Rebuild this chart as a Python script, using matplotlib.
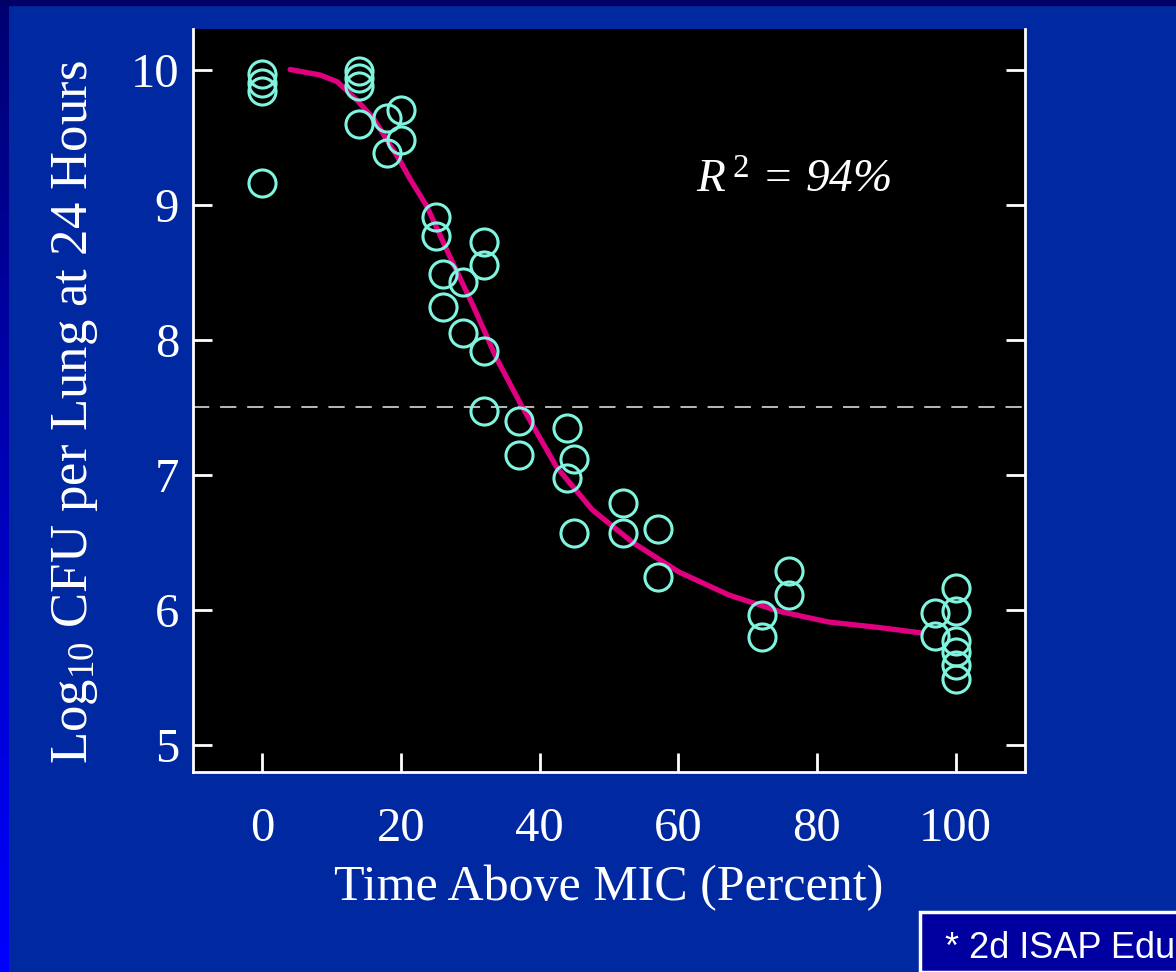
import numpy as np
import matplotlib
matplotlib.use("Agg")
import matplotlib.pyplot as plt
from matplotlib.patches import Rectangle

plt.rcParams['font.family'] = ['Liberation Serif', 'DejaVu Serif']
plt.rcParams['mathtext.fontset'] = 'custom'
plt.rcParams['mathtext.rm'] = 'Liberation Serif'
plt.rcParams['mathtext.it'] = 'Liberation Serif:italic'

# observed points (time above MIC %, log10 CFU)
pts_x = [0, 0, 0, 0,
         14, 14, 14, 14,
         18, 18, 20, 20,
         25, 25, 26, 26, 29, 29,
         32, 32, 32, 32,
         37, 37, 44, 44, 45, 45,
         52, 52, 57, 57,
         72, 72, 76, 76,
         97, 97,
         100, 100, 100, 100, 100, 100]
pts_y = [9.97, 9.90, 9.84, 9.16,
         9.99, 9.94, 9.88, 9.60,
         9.64, 9.38, 9.70, 9.48,
         8.91, 8.77, 8.49, 8.24, 8.43, 8.05,
         8.72, 8.55, 7.92, 7.47,
         7.40, 7.15, 7.35, 6.98, 7.12, 6.57,
         6.79, 6.57, 6.60, 6.24,
         5.96, 5.80, 6.29, 6.11,
         5.98, 5.81,
         6.16, 5.99, 5.77, 5.69, 5.59, 5.49]

# fitted curve
fit_x = [4, 8.3, 10.8, 13.7, 16, 19.9, 21.3, 23.7, 27, 30.5, 33.8, 37.4,
         42.4, 47.6, 53.4, 60.1, 67.3, 74.5, 81.7, 88.9, 95]
fit_y = [10.0, 9.96, 9.91, 9.77, 9.64, 9.32, 9.19, 8.99, 8.62, 8.24, 7.86, 7.51,
         7.06, 6.74, 6.50, 6.28, 6.11, 5.99, 5.91, 5.87, 5.83]

ref_level = 7.5
xticks = [0, 20, 40, 60, 80, 100]
yticks = [5, 6, 7, 8, 9, 10]

bg = '#0028A0'
W, H = 1176, 972
fig = plt.figure(figsize=(W/100, H/100), dpi=100, facecolor=bg)

# slide frame: dark strip on top, gradient strip on the left
fig.patches.append(Rectangle((0, 1 - 5/H), 1, 5/H, transform=fig.transFigure,
                             color='#000066', zorder=0))
gax = fig.add_axes([0, 0, 9/W, 1 - 5/H])
grad = np.linspace(0, 1, 256)[:, None]
cols = np.zeros((256, 1, 3))
cols[..., 2] = 0.45 + 0.55 * grad  # navy at the top to bright blue at the bottom
gax.imshow(cols, aspect='auto', extent=[0, 1, 0, 1], origin='upper')
gax.axis('off')

ax = fig.add_axes([193/W, 1 - 772/H, (1025-193)/W, (772-29)/H])
ax.set_facecolor('black')

ax.plot(fit_x, fit_y, color='#E0007F', linewidth=3.8, solid_capstyle='round', zorder=2)
ax.axhline(ref_level, color='#C8C8C8', linewidth=1.3, dashes=(9, 6), zorder=1)
ax.plot(pts_x, pts_y, 'o', markersize=19.5, markerfacecolor='none',
        markeredgecolor='#7FF5DF', markeredgewidth=2.2, zorder=3)

ax.set_xlim(-10, 110)
ax.set_ylim(4.8, 10.3)
ax.set_xticks(xticks)
ax.set_yticks(yticks)

for s in ['left', 'bottom', 'right']:
    ax.spines[s].set_color('white')
    ax.spines[s].set_linewidth(2)
ax.spines['top'].set_visible(False)

ax.tick_params(axis='both', direction='in', length=14, width=2, color='white',
               labelcolor='white', labelsize=35)
ax.tick_params(axis='y', right=True, pad=10)
ax.tick_params(axis='x', pad=25)

ax.set_xlabel('Time Above MIC (Percent)', color='white', fontsize=36, labelpad=10)
ax.set_ylabel(r'Log$_{10}$ CFU per Lung at 24 Hours', color='white', fontsize=38)
ax.yaxis.set_label_coords(-0.112, 0.485)

ax.text(62.5, 9.17, r'$R^{\,2}$ = 94%', color='white', fontsize=34, style='italic',
        va='center', ha='left')

# footnote box, cut off at the right edge as on the slide
fig.patches.append(Rectangle((920/W, 0), 1, (H - 912)/H, transform=fig.transFigure,
                             facecolor='#0000A0', edgecolor='white', linewidth=2.5,
                             zorder=1))
fig.text(945/W, 1 - 948/H, '* 2d ISAP Educational Workshop', color='white',
         fontsize=26, family='Liberation Sans', va='center', ha='left', zorder=2)

fig.savefig('out.png', dpi=100, facecolor=bg)
